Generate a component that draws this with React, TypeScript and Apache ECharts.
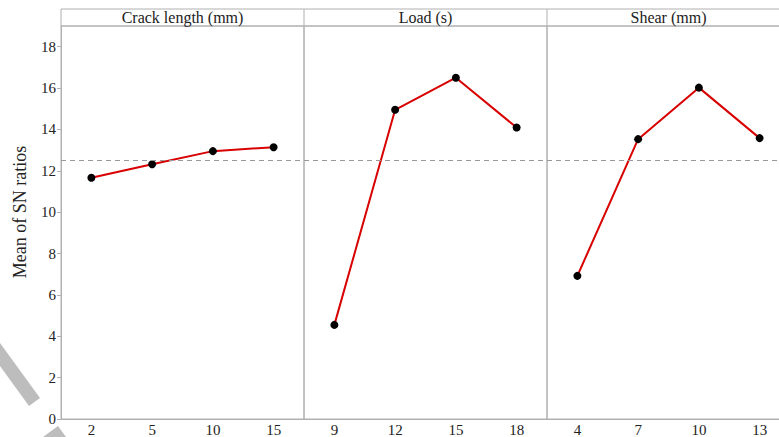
import React, { useEffect, useRef } from "react";
import * as echarts from "echarts";

const panelTitles = ["Crack length (mm)", "Load (s)", "Shear (mm)"];
const crackLevels = ["2", "5", "10", "15"];
const loadLevels = ["9", "12", "15", "18"];
const shearLevels = ["4", "7", "10", "13"];
const crackValues = [11.66, 12.32, 12.95, 13.14];
const loadValues = [4.55, 14.95, 16.5, 14.09];
const shearValues = [6.92, 13.53, 16.02, 13.58];
const meanValue = 12.5;
const yTicks = [0, 2, 4, 6, 8, 10, 12, 14, 16, 18];
const yTitle = "Mean of SN ratios";

const FONT = "'Liberation Serif', 'DejaVu Serif', serif";
const GRAY = "#b0b0b0";

export default function App() {
  const ref = useRef<HTMLDivElement>(null);
  useEffect(() => {
    if (!ref.current) return;
    const chart = echarts.init(ref.current, null, { renderer: "svg" });
    const cats = [crackLevels, loadLevels, shearLevels];
    const vals = [crackValues, loadValues, shearValues];
    const lefts = [61, 304, 547];
    const W = 243;
    const top = 26;
    const bottom = 18;
    const grids = lefts.map((l) => ({
      left: l,
      width: W,
      top,
      bottom,
      show: true,
      borderColor: GRAY,
      borderWidth: 1,
      containLabel: false,
      outerBoundsMode: "none",
    }));
    const xAxis = cats.map((c, i) => ({
      type: "category",
      gridIndex: i,
      data: c,
      boundaryGap: true,
      axisLine: { lineStyle: { color: GRAY } },
      axisTick: { inside: true, length: 6, alignWithLabel: true, lineStyle: { color: GRAY } },
      axisLabel: { color: "#222", fontFamily: FONT, fontSize: 15, margin: 3 },
    }));
    const yAxis = cats.map((_, i) => ({
      type: "value",
      gridIndex: i,
      min: 0,
      max: 19,
      interval: 2,
      splitLine: { show: false },
      axisLine: { show: i === 0, lineStyle: { color: GRAY } },
      axisTick: { show: i === 0, length: 4, customValues: yTicks, lineStyle: { color: GRAY } },
      axisLabel: {
        show: i === 0,
        customValues: yTicks,
        color: "#222",
        fontFamily: FONT,
        fontSize: 15,
        margin: 5,
      },
    }));
    const series = vals.map((v, i) => ({
      type: "line",
      xAxisIndex: i,
      yAxisIndex: i,
      data: v,
      symbol: "circle",
      symbolSize: 8,
      itemStyle: { color: "#000" },
      lineStyle: { color: "#d80000", width: 2 },
      markLine: {
        silent: true,
        symbol: "none",
        label: { show: false },
        lineStyle: { color: "#999", type: [5, 4], width: 1 },
        data: [{ yAxis: meanValue }],
      },
    }));
    const graphic: any[] = [
      {
        type: "rect",
        shape: { x: 61, y: 9, width: 3 * W, height: 17 },
        style: { fill: "none", stroke: GRAY, lineWidth: 1 },
      },
      ...lefts.slice(1).map((l) => ({
        type: "line",
        shape: { x1: l, y1: 9, x2: l, y2: 26 },
        style: { stroke: GRAY, lineWidth: 1 },
      })),
      ...panelTitles.map((t, i) => ({
        type: "text",
        x: lefts[i] + W / 2,
        y: 17.5,
        style: {
          text: t,
          fill: "#222",
          font: `16px ${FONT}`,
          textAlign: "center",
          textVerticalAlign: "middle",
        },
      })),
      {
        type: "text",
        x: 20,
        y: 212,
        rotation: Math.PI / 2,
        style: {
          text: yTitle,
          fill: "#222",
          font: `18px ${FONT}`,
          textAlign: "center",
          textVerticalAlign: "middle",
        },
      },
      {
        type: "polygon",
        shape: { points: [[0, 343], [0, 366], [29, 406], [40, 398]] },
        style: { fill: "#bdbdbd" },
      },
      {
        type: "polygon",
        shape: { points: [[43, 437], [58, 426], [66, 437]] },
        style: { fill: "#bdbdbd" },
      },
    ];
    chart.setOption({
      animation: false,
      backgroundColor: "#fff",
      grid: grids,
      xAxis,
      yAxis,
      series,
      graphic,
    });
    return () => chart.dispose();
  }, []);
  return (
    <div
      ref={ref}
      style={{ position: "fixed", left: 0, top: 0, width: 790, height: 437 }}
    />
  );
}
